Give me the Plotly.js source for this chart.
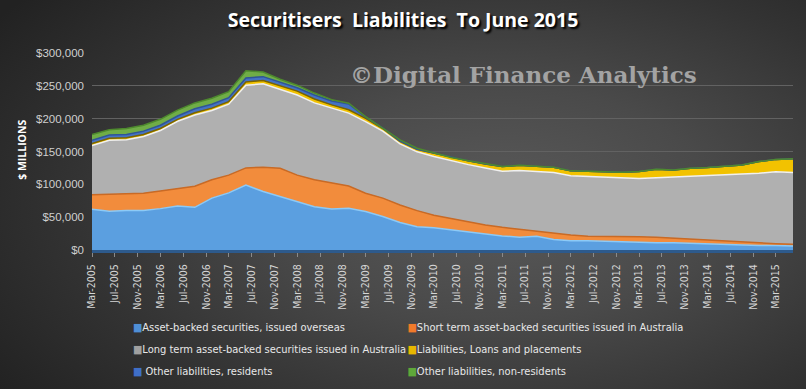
<!DOCTYPE html>
<html>
<head>
<meta charset="utf-8">
<script src="https://cdn.plot.ly/plotly-3.0.1.min.js"></script>
<style>
  html, body { margin: 0; padding: 0; }
  body {
    width: 806px; height: 389px; overflow: hidden;
    background: radial-gradient(ellipse 75% 85% at 62% 52%, #5a5a5a 0%, #4a4a4a 35%, #333333 70%, #222222 100%);
  }
  #chart { width: 806px; height: 389px; }
</style>
</head>
<body>
<div id="chart"></div>
<script>
// Quarter-end months, Mar-2005 .. Jun-2015
const quarters = [
  '2005-03','2005-06','2005-09','2005-12','2006-03','2006-06','2006-09','2006-12',
  '2007-03','2007-06','2007-09','2007-12','2008-03','2008-06','2008-09','2008-12',
  '2009-03','2009-06','2009-09','2009-12','2010-03','2010-06','2010-09','2010-12',
  '2011-03','2011-06','2011-09','2011-12','2012-03','2012-06','2012-09','2012-12',
  '2013-03','2013-06','2013-09','2013-12','2014-03','2014-06','2014-09','2014-12',
  '2015-03','2015-06'
];

// $ millions
const absOverseas = [
  62000,59000,60000,60000,63000,67000,65000,79000,87000,99000,89000,81000,
  74000,66000,62500,63500,58500,51000,42000,35500,34000,31000,27500,24000,
  21500,19500,21000,16000,14000,14000,13000,12500,12000,11000,11000,10000,
  9000,8500,8000,7000,7000,6000
];
const shortTermAus = [
  22000,26000,26000,26500,27000,27000,32000,28000,27000,26000,37000,43500,
  40000,41000,39500,34000,28000,28000,26500,24500,19000,17000,15500,14000,
  13000,12000,7000,9400,9000,7000,8000,8500,8000,8300,6800,6300,
  6300,5700,4200,3200,2700,2600
];
const longTermAus = [
  75000,82000,82000,86500,92000,102000,108500,105500,108000,126000,127000,120500,
  122000,117000,114000,111000,109000,102000,93000,89500,89500,88000,87000,87000,
  85500,89500,92000,92600,90000,91000,89000,88000,89000,90700,93200,95700,
  97700,99800,102800,106800,109300,109400
];
const loansPlacements = [
  3000,3000,3000,3000,3000,3000,3500,3500,4000,5000,5000,5000,
  6000,6000,5000,5000,5000,4000,4000,4000,5000,5000,6000,6000,
  7000,8000,8000,8000,7500,7500,8500,9500,10500,13000,11000,12600,
  12600,14000,14600,17700,19000,21000
];
const otherResidents = [
  5000,5000,5000,5000,5000,5000,6000,6000,6000,6000,6000,5000,
  5000,6000,6000,9000,2000,500,300,0,0,0,0,0,
  0,0,0,0,0,0,0,0,0,0,0,0,
  0,0,0,0,0,0
];
const otherNonResidents = [
  9000,8000,9000,9000,9000,9000,9000,9000,9000,11000,7000,5000,
  4000,3000,2000,1000,500,300,2000,1500,500,0,0,0,
  0,0,0,0,0,0,0,0,0,0,0,0,
  0,0,0,0,0,0
];

const seriesNames = [
  'Asset-backed securities, issued overseas',
  'Short term asset-backed securities issued in Australia',
  'Long term asset-backed securities issued in Australia',
  'Liabilities, Loans and placements',
  ' Other liabilities, residents',
  'Other liabilities, non-residents'
];

const tickLabels = [
  'Mar-2005','Jul-2005','Nov-2005','Mar-2006','Jul-2006','Nov-2006','Mar-2007','Jul-2007',
  'Nov-2007','Mar-2008','Jul-2008','Nov-2008','Mar-2009','Jul-2009','Nov-2009','Mar-2010',
  'Jul-2010','Nov-2010','Mar-2011','Jul-2011','Nov-2011','Mar-2012','Jul-2012','Nov-2012',
  'Mar-2013','Jul-2013','Nov-2013','Mar-2014','Jul-2014','Nov-2014','Mar-2015'
];

const yTicks = [0, 50000, 100000, 150000, 200000, 250000, 300000];
const yTickLabels = ['$0', '$50,000', '$100,000', '$150,000', '$200,000', '$250,000', '$300,000'];

const monthIdx = {Jan:'01',Feb:'02',Mar:'03',Apr:'04',May:'05',Jun:'06',Jul:'07',Aug:'08',Sep:'09',Oct:'10',Nov:'11',Dec:'12'};
const tickVals = tickLabels.map(t => { const [m, y] = t.split('-'); return y + '-' + monthIdx[m] + '-01'; });
const xDates = quarters.map(q => q + '-01');

const values = [absOverseas, shortTermAus, longTermAus, loansPlacements, otherResidents, otherNonResidents];
const fills = ['#5b9fe0', '#f28c3c', '#b0b0b0', '#f2c200', '#4472c4', '#70ad47'];
const keyCols = ['#4f8fd6', '#f07a2a', '#a0a0a0', '#e8b800', '#3f6fc8', '#5fa83a'];
const edges = ['#8ccaf7', '#c96a25', '#f0f0f0', '#7a6400', '#2f5597', '#4e8a2e'];
const legendOf = ['legend', 'legend2', 'legend', 'legend2', 'legend', 'legend2'];

const traces = [];
values.forEach((v, i) => {
  traces.push({
    type: 'scatter', mode: 'lines', x: xDates, y: v, stackgroup: 'one',
    name: seriesNames[i], showlegend: false, hoverinfo: 'skip',
    fillcolor: fills[i], line: {color: edges[i], width: 1.5, shape: 'linear'}
  });
});
// legend-only entries: small coloured block key placed right before the text
values.forEach((v, i) => {
  traces.push({
    type: 'scatter', mode: 'markers', x: [null], y: [null],
    name: '<span style="color:' + keyCols[i] + '">■</span>' + seriesNames[i],
    legend: legendOf[i], legendgroup: 'g' + i,
    marker: {symbol: 'square', size: 0.1, opacity: 0, color: 'rgba(0,0,0,0)', line: {width: 0}}
  });
});

const legendFont = {family: '"DejaVu Sans Condensed", "Liberation Sans Narrow", "DejaVu Sans", sans-serif', size: 11, color: '#e8e8e8'};

const layout = {
  width: 806, height: 389,
  paper_bgcolor: 'rgba(0,0,0,0)', plot_bgcolor: 'rgba(0,0,0,0)',
  margin: {l: 92, r: 13, t: 53, b: 139, autoexpand: false},
  title: {
    text: 'Securitisers  Liabilities  To June 2015',
    x: 0.5, xanchor: 'center', y: 0.948, yanchor: 'middle', automargin: false,
    font: {family: '"Open Sans", "DejaVu Sans", sans-serif', size: 19.5, color: '#ffffff', weight: 'bold', shadow: '2px 2px 2px #000'}
  },
  xaxis: {
    type: 'date', range: ['2005-03-01', '2015-06-01'],
    tickvals: tickVals, ticktext: tickLabels, tickangle: -90,
    tickfont: {family: '"DejaVu Sans Condensed", "DejaVu Sans", sans-serif', size: 10.5, color: '#d6d6d6'},
    ticks: 'outside', ticklen: 4, tickcolor: '#8a8a8a', ticklabelstandoff: 3,
    showgrid: false, showline: true, linecolor: '#2d5a8c', linewidth: 3, zeroline: false,
    automargin: false, fixedrange: true
  },
  yaxis: {
    range: [0, 300000], tickvals: yTicks, ticktext: yTickLabels,
    tickfont: {family: '"Liberation Sans", Arial, sans-serif', size: 11.5, color: '#cfcfcf'},
    showgrid: true, gridcolor: '#626262', gridwidth: 1, zeroline: false, ticklabelstandoff: 7,
    showline: false, ticks: '', automargin: false, fixedrange: true
  },
  showlegend: true,
  legend: {
    x: 0.0014, xanchor: 'left', y: -0.315, yanchor: 'top',
    bgcolor: 'rgba(0,0,0,0)', borderwidth: 0, font: legendFont,
    traceorder: 'grouped', tracegroupgap: 3, itemwidth: 30
  },
  legend2: {
    x: 0.393, xanchor: 'left', y: -0.315, yanchor: 'top',
    bgcolor: 'rgba(0,0,0,0)', borderwidth: 0, font: legendFont,
    traceorder: 'grouped', tracegroupgap: 3, itemwidth: 30
  },
  annotations: [
    {
      text: '$ MILLIONS', xref: 'paper', yref: 'paper', x: -0.1, y: 0.508,
      xanchor: 'center', yanchor: 'middle', textangle: -90, showarrow: false,
      font: {family: '"Open Sans", "DejaVu Sans", sans-serif', size: 10.5, color: '#ffffff', weight: 'bold'}
    },
    {
      text: '©Digital Finance Analytics', xref: 'paper', yref: 'paper', x: 0.615, y: 0.893,
      xanchor: 'center', yanchor: 'middle', showarrow: false,
      font: {family: '"DejaVu Serif", "Liberation Serif", serif', size: 23, color: '#a3a3a3', weight: 'bold'}
    }
  ]
};

Plotly.newPlot('chart', traces, layout, {displayModeBar: false, staticPlot: true});
</script>
</body>
</html>
